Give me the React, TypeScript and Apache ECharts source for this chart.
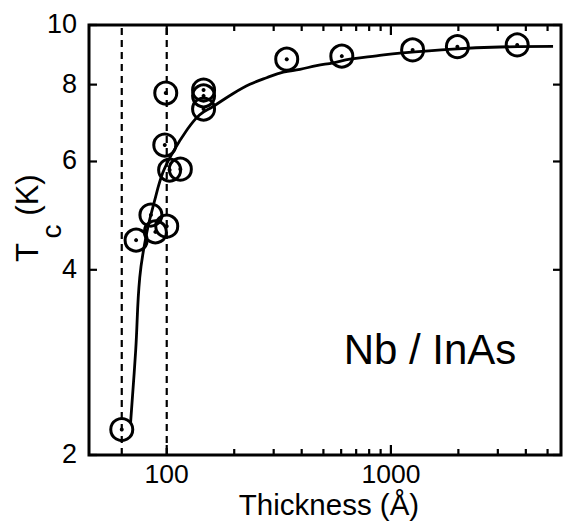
import React, { useEffect, useRef } from 'react';
import * as echarts from 'echarts';

// Measured points: thickness (Å) and Tc (K)
const thickness = [63, 73, 85, 89, 100, 99, 98, 103, 115, 146, 146, 146, 343, 604, 1250, 1980, 3660];
const tc = [2.2, 4.47, 4.91, 4.61, 4.71, 7.75, 6.38, 5.81, 5.83, 7.84, 7.67, 7.3, 8.8, 8.9, 9.11, 9.22, 9.28];

// Solid fit curve
const fitThickness = [69, 72.7, 75.8, 81.4, 88.4, 96, 106, 123, 140, 161, 198, 235, 279, 331, 393, 466, 553, 656, 863, 1097, 1890, 3066, 5290];
const fitTc = [2.26, 2.96, 3.89, 4.59, 5.19, 5.75, 6.19, 6.75, 7.14, 7.37, 7.74, 8.01, 8.21, 8.38, 8.47, 8.59, 8.68, 8.8, 8.91, 9.0, 9.14, 9.21, 9.23];

// Vertical dashed guide lines (Å)
const dashedThickness = [63, 100];

// Ticks
const xMajorTicks = [100, 1000];
const xMajorLabels = ['100', '1000'];
const xMinorTicks = [200, 300, 400, 500, 600, 700, 800, 900, 2000, 3000, 4000, 5000];
const yTicks = [2, 4, 6, 8, 10];
const yTickLabels = ['2', '4', '6', '8', '10'];

const X_MIN = 45;
const X_MAX = 5740;
const Y_MIN = 2;
const Y_MAX = 10;

const FONT = '"Liberation Sans", Arial, Helvetica, sans-serif';

function txt(text: string, fontSize: number, align = 'center', vAlign = 'middle') {
  return {
    text,
    fill: '#000',
    fontSize,
    fontFamily: FONT,
    align,
    verticalAlign: vAlign,
    textAlign: align,
    textVerticalAlign: vAlign,
  };
}

export default function App() {
  const ref = useRef<HTMLDivElement>(null);

  useEffect(() => {
    const chart = echarts.init(ref.current!, null, { renderer: 'svg' });

    const xTickData = [
      ...xMajorTicks.map((v, i) => [v, Y_MIN, 1, i]),
      ...xMinorTicks.map((v) => [v, Y_MIN, 0, -1]),
    ];
    const yTickData = yTicks.map((v, i) => [X_MIN, v, i]);

    const option: any = {
      animation: false,
      backgroundColor: '#fff',
      grid: {
        left: 89,
        top: 25,
        right: 5,
        bottom: 72,
        show: true,
        borderColor: '#000',
        borderWidth: 3,
        backgroundColor: 'transparent',
        containLabel: false,
        outerBoundsMode: 'none',
      },
      xAxis: {
        type: 'log',
        logBase: 10,
        min: X_MIN,
        max: X_MAX,
        axisLine: { show: false },
        axisTick: { show: false },
        axisLabel: { show: false },
        splitLine: { show: false },
        minorTick: { show: false },
      },
      yAxis: {
        type: 'log',
        logBase: 10,
        min: Y_MIN,
        max: Y_MAX,
        axisLine: { show: false },
        axisTick: { show: false },
        axisLabel: { show: false },
        splitLine: { show: false },
        minorTick: { show: false },
      },
      graphic: [
        { type: 'text', x: 27.5, y: 252.5, rotation: Math.PI / 2, style: txt('T', 31) },
        { type: 'text', x: 51, y: 231.5, rotation: Math.PI / 2, style: txt('c', 28) },
        { type: 'text', x: 27.5, y: 195, rotation: Math.PI / 2, style: txt('(K)', 31) },
        { type: 'text', x: 329, y: 504, style: txt('Thickness (Å)', 29.5) },
        { type: 'text', x: 430, y: 349, style: txt('Nb / InAs', 42) },
      ],
      series: [
        ...dashedThickness.map((d) => ({
          type: 'line',
          data: [
            [d, Y_MIN],
            [d, Y_MAX],
          ],
          symbol: 'none',
          silent: true,
          lineStyle: { color: '#000', width: 2.2, type: [7, 5] },
          z: 2,
        })),
        {
          type: 'line',
          data: fitThickness.map((x, i) => [x, fitTc[i]]),
          symbol: 'none',
          smooth: 0.4,
          silent: true,
          lineStyle: { color: '#000', width: 2.8 },
          z: 3,
        },
        {
          type: 'scatter',
          data: thickness.map((x, i) => [x, tc[i]]),
          symbol: 'circle',
          symbolSize: 22,
          silent: true,
          itemStyle: { color: 'rgba(0,0,0,0)', borderColor: '#000', borderWidth: 3, opacity: 1 },
          z: 4,
        },
        {
          type: 'scatter',
          data: thickness.map((x, i) => [x, tc[i]]),
          symbol: 'circle',
          symbolSize: 4,
          silent: true,
          itemStyle: { color: '#000', opacity: 1 },
          z: 5,
        },
        {
          type: 'custom',
          clip: false,
          silent: true,
          data: xTickData,
          encode: { x: 0, y: 1 },
          z: 6,
          renderItem: (params: any, api: any) => {
            const v = api.value(0);
            const major = api.value(2) === 1;
            const idx = api.value(3);
            const b = api.coord([v, Y_MIN]);
            const t = api.coord([v, Y_MAX]);
            const len = major ? 10 : 6;
            const children: any[] = [
              { type: 'line', shape: { x1: b[0], y1: b[1], x2: b[0], y2: b[1] - len }, style: { stroke: '#000', lineWidth: 2.2 } },
              { type: 'line', shape: { x1: t[0], y1: t[1], x2: t[0], y2: t[1] + len }, style: { stroke: '#000', lineWidth: 2.2 } },
            ];
            if (major && idx >= 0) {
              children.push({ type: 'text', x: b[0], y: b[1] + 19, style: txt(xMajorLabels[idx], 26.5) });
            }
            return { type: 'group', children };
          },
        },
        {
          type: 'custom',
          clip: false,
          silent: true,
          data: yTickData,
          encode: { x: 0, y: 1 },
          z: 6,
          renderItem: (params: any, api: any) => {
            const v = api.value(1);
            const idx = api.value(2);
            const l = api.coord([X_MIN, v]);
            const r = api.coord([X_MAX, v]);
            const len = 8;
            return {
              type: 'group',
              children: [
                { type: 'line', shape: { x1: l[0], y1: l[1], x2: l[0] + len, y2: l[1] }, style: { stroke: '#000', lineWidth: 2.2 } },
                { type: 'line', shape: { x1: r[0], y1: r[1], x2: r[0] - len, y2: r[1] }, style: { stroke: '#000', lineWidth: 2.2 } },
                { type: 'text', x: l[0] - 12, y: l[1] - 1, style: txt(yTickLabels[idx], 27, 'right', 'middle') },
              ],
            };
          },
        },
      ],
    };

    chart.setOption(option);
    return () => chart.dispose();
  }, []);

  return (
    <div
      ref={ref}
      style={{ position: 'fixed', left: 0, top: 0, width: 566, height: 527, background: '#fff' }}
    />
  );
}
